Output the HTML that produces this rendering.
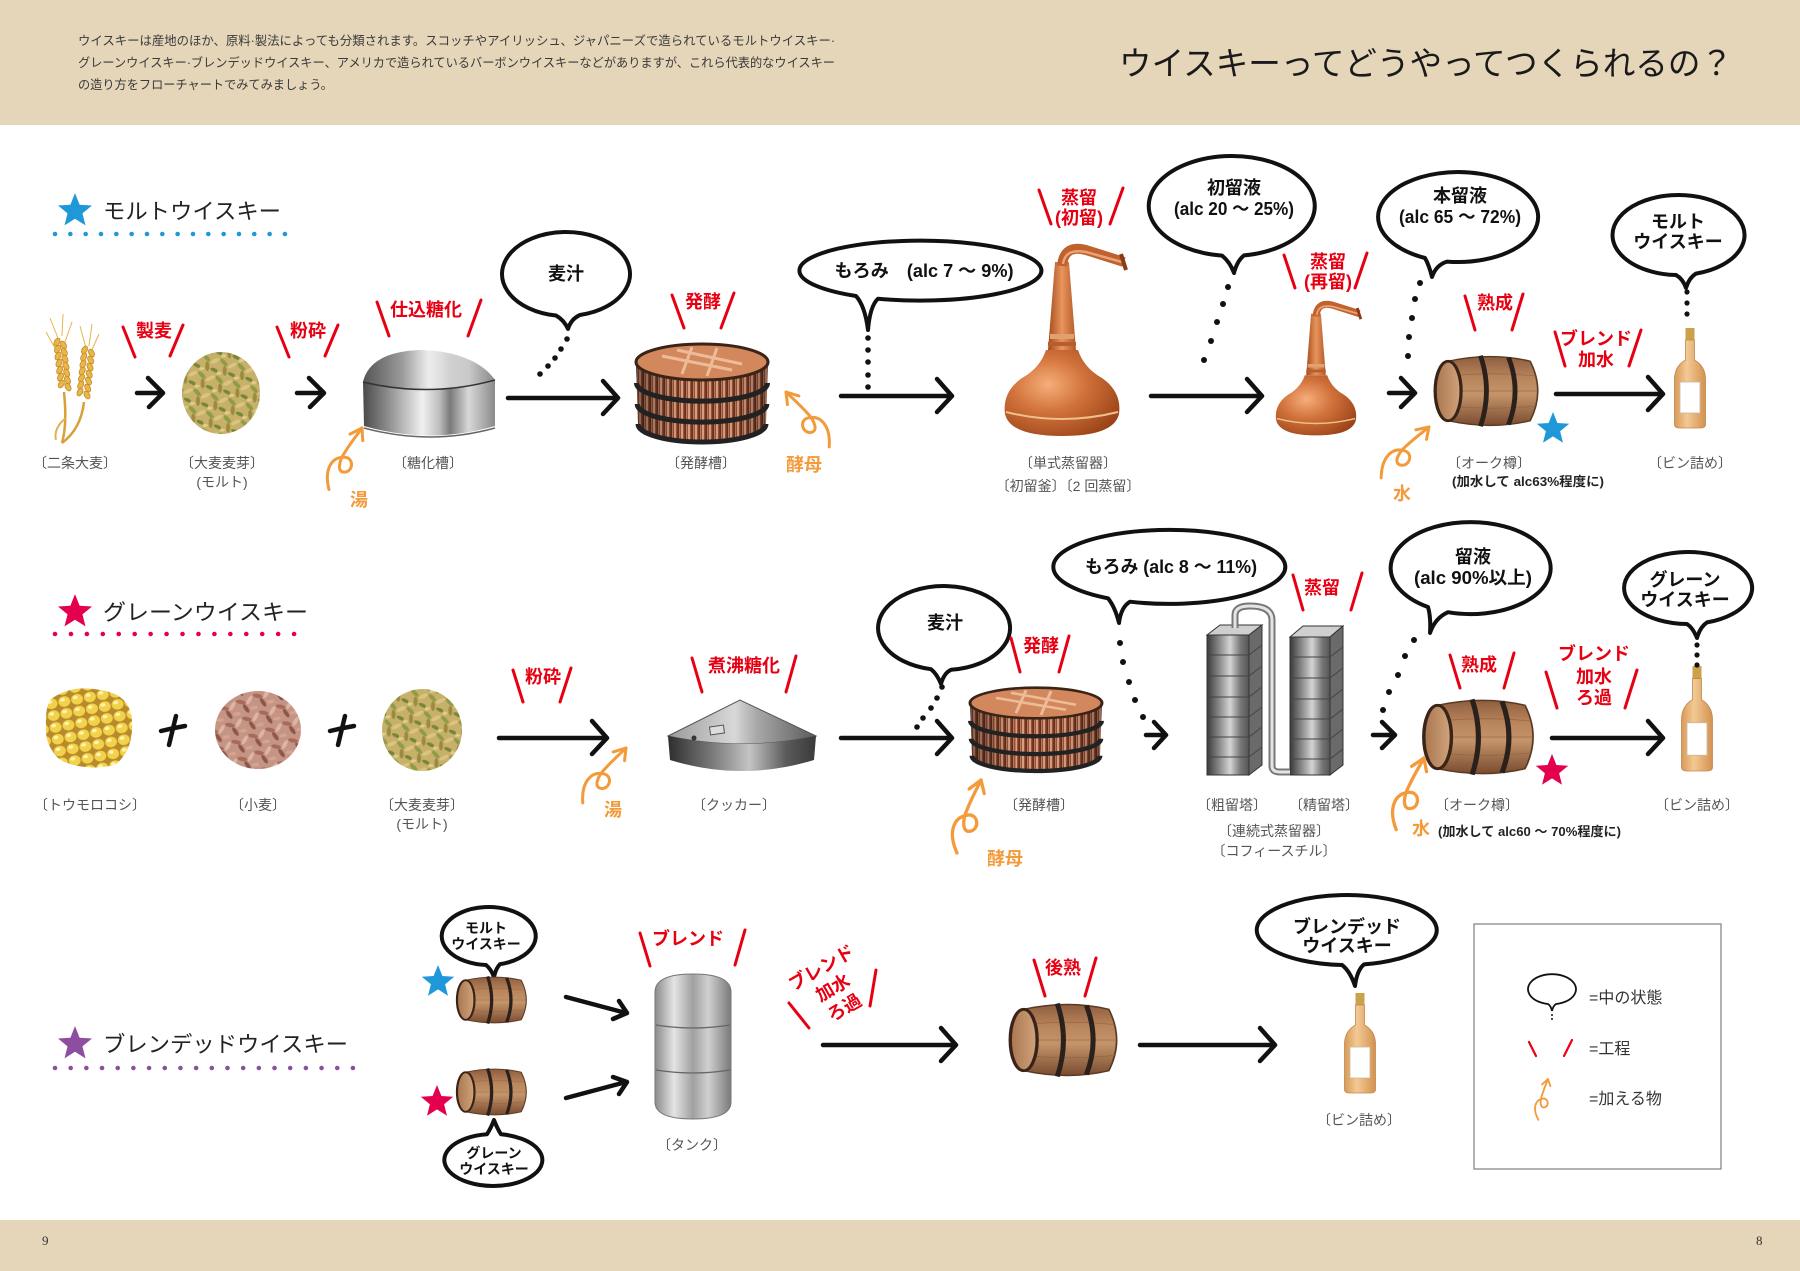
<!DOCTYPE html>
<html lang="ja"><head><meta charset="utf-8"><title>ウイスキーってどうやってつくられるの？</title>
<style>
html,body{margin:0;padding:0;background:#fff;width:1800px;height:1271px;overflow:hidden;}
svg{display:block;}
text{font-family:"Liberation Sans","Noto Sans CJK JP",sans-serif;}
.lb{font-size:14px;fill:#555;text-anchor:middle;}
.rd{font-size:18px;fill:#E60012;font-weight:700;text-anchor:middle;}
.bt{font-size:18px;fill:#111;font-weight:700;text-anchor:middle;}
.bs{font-size:14px;fill:#111;font-weight:700;text-anchor:middle;}
.nar{font-family:"Liberation Sans Narrow","Liberation Sans","Noto Sans CJK JP",sans-serif;}
.or{font-size:18px;fill:#F39A3A;font-weight:700;text-anchor:middle;}
.ttl{font-size:22px;fill:#222;}
.bub{fill:#fff;stroke:#111;stroke-width:4;stroke-linejoin:round;}
.sl{stroke:#E60012;stroke-width:3;stroke-linecap:round;fill:none;}
.ar{stroke:#111;stroke-width:4.5;stroke-linecap:round;stroke-linejoin:round;fill:none;}
.dt{fill:#111;}
.lg{font-size:16px;fill:#333;}
</style></head><body>
<svg width="1800" height="1271" viewBox="0 0 1800 1271" xmlns="http://www.w3.org/2000/svg">
<defs>
  <path id="star" d="M0,-17 L4.4,-6 L16.2,-5.2 L7.1,2.3 L10,13.7 L0,7.4 L-10,13.7 L-7.1,2.3 L-16.2,-5.2 L-4.4,-6 Z"/>
  <linearGradient id="gBarrel" x1="0" y1="0" x2="0" y2="1">
    <stop offset="0" stop-color="#8e5e3e"/><stop offset="0.3" stop-color="#b8845c"/>
    <stop offset="0.55" stop-color="#c4946a"/><stop offset="1" stop-color="#7a4c30"/>
  </linearGradient>
  <linearGradient id="gBarrelEnd" x1="0" y1="0" x2="1" y2="0">
    <stop offset="0" stop-color="#a87650"/><stop offset="1" stop-color="#d2a47c"/>
  </linearGradient>
  <linearGradient id="gShadeH" x1="0" y1="0" x2="1" y2="0">
    <stop offset="0" stop-color="#000" stop-opacity="0.4"/><stop offset="0.35" stop-color="#000" stop-opacity="0"/>
    <stop offset="0.75" stop-color="#000" stop-opacity="0.05"/><stop offset="1" stop-color="#000" stop-opacity="0.35"/>
  </linearGradient>
  <radialGradient id="gCopper" cx="0.38" cy="0.4" r="0.7">
    <stop offset="0" stop-color="#f6ae7a"/><stop offset="0.45" stop-color="#d2733c"/><stop offset="1" stop-color="#9c4418"/>
  </radialGradient>
  <linearGradient id="gCopperV" x1="0" y1="0" x2="1" y2="0">
    <stop offset="0" stop-color="#a4481c"/><stop offset="0.5" stop-color="#e8955c"/><stop offset="1" stop-color="#b4582a"/>
  </linearGradient>
  <linearGradient id="gBottle" x1="0" y1="0" x2="1" y2="0">
    <stop offset="0" stop-color="#d89a58"/><stop offset="0.4" stop-color="#f3c994"/><stop offset="1" stop-color="#d39250"/>
  </linearGradient>
  <linearGradient id="gMetal" x1="0" y1="0" x2="1" y2="0">
    <stop offset="0" stop-color="#4a4a4a"/><stop offset="0.18" stop-color="#8a8a8a"/>
    <stop offset="0.45" stop-color="#f0f0f0"/><stop offset="0.58" stop-color="#bdbdbd"/>
    <stop offset="0.66" stop-color="#7a7a7a"/><stop offset="0.8" stop-color="#d8d8d8"/><stop offset="1" stop-color="#8a8a8a"/>
  </linearGradient>
  <linearGradient id="gDome" x1="0" y1="0" x2="1" y2="0">
    <stop offset="0" stop-color="#555"/><stop offset="0.3" stop-color="#999"/>
    <stop offset="0.5" stop-color="#eee"/><stop offset="0.8" stop-color="#c8c8c8"/><stop offset="1" stop-color="#888"/>
  </linearGradient>
  <linearGradient id="gCone" x1="0" y1="0" x2="1" y2="0">
    <stop offset="0" stop-color="#9a9a9a"/><stop offset="0.45" stop-color="#d8d8d8"/>
    <stop offset="0.6" stop-color="#a8a8a8"/><stop offset="1" stop-color="#5a5a5a"/>
  </linearGradient>
  <linearGradient id="gCyl" x1="0" y1="0" x2="1" y2="0">
    <stop offset="0" stop-color="#2e2e2e"/><stop offset="0.3" stop-color="#7a7a7a"/>
    <stop offset="0.55" stop-color="#c4c4c4"/><stop offset="0.8" stop-color="#5a5a5a"/><stop offset="1" stop-color="#3a3a3a"/>
  </linearGradient>
  <linearGradient id="gTower" x1="0" y1="0" x2="1" y2="0">
    <stop offset="0" stop-color="#3a3a3a"/><stop offset="0.3" stop-color="#8c8c8c"/>
    <stop offset="0.55" stop-color="#d4d4d4"/><stop offset="0.8" stop-color="#777"/><stop offset="1" stop-color="#555"/>
  </linearGradient>
  <linearGradient id="gTank" x1="0" y1="0" x2="1" y2="0">
    <stop offset="0" stop-color="#8a8a8a"/><stop offset="0.25" stop-color="#e4e4e4"/>
    <stop offset="0.5" stop-color="#a0a0a0"/><stop offset="0.7" stop-color="#d0d0d0"/><stop offset="1" stop-color="#7a7a7a"/>
  </linearGradient>
  <pattern id="pStave" width="7" height="10" patternUnits="userSpaceOnUse">
    <rect width="7" height="10" fill="#9a5238"/>
    <rect x="0" width="2" height="10" fill="#d9a080"/>
    <rect x="3.5" width="1.2" height="10" fill="#4a2418"/>
    <rect x="5" width="1" height="10" fill="#c07858"/>
  </pattern>
  <pattern id="pMalt" width="18" height="18" patternUnits="userSpaceOnUse" patternTransform="rotate(15)">
    <rect width="18" height="18" fill="#c7b06a"/>
    <ellipse cx="4" cy="4" rx="5" ry="2" fill="#8f9b45" transform="rotate(30 4 4)"/>
    <ellipse cx="13" cy="5" rx="5" ry="2" fill="#dcc47e" transform="rotate(-40 13 5)"/>
    <ellipse cx="7" cy="12" rx="5" ry="2" fill="#9c8a3e" transform="rotate(75 7 12)"/>
    <ellipse cx="15" cy="14" rx="4.5" ry="1.8" fill="#76863a" transform="rotate(10 15 14)"/>
    <ellipse cx="2" cy="16" rx="3" ry="1.5" fill="#e2cc8a" transform="rotate(-20 2 16)"/>
  </pattern>
  <pattern id="pWheat" width="18" height="18" patternUnits="userSpaceOnUse" patternTransform="rotate(-20)">
    <rect width="18" height="18" fill="#c49484"/>
    <ellipse cx="4" cy="4" rx="5" ry="2" fill="#a8685a" transform="rotate(30 4 4)"/>
    <ellipse cx="13" cy="5" rx="5" ry="2" fill="#e0b4a4" transform="rotate(-40 13 5)"/>
    <ellipse cx="7" cy="12" rx="5" ry="2" fill="#8e5648" transform="rotate(75 7 12)"/>
    <ellipse cx="15" cy="14" rx="4.5" ry="1.8" fill="#d8a290" transform="rotate(10 15 14)"/>
  </pattern>
  <pattern id="pCorn" width="13" height="12" patternUnits="userSpaceOnUse" patternTransform="rotate(-10)">
    <rect width="13" height="12" fill="#b88a2c"/>
    <ellipse cx="6.5" cy="6" rx="6" ry="5.3" fill="#f2d24a"/>
    <ellipse cx="5" cy="4" rx="2.5" ry="1.8" fill="#fff4b0"/>
  </pattern>

  <g id="barrel">
    <path d="M-36,-32 Q4,-42 40,-32 Q54,0 40,32 Q4,42 -36,32 Z" fill="url(#gBarrel)" stroke="#5a3a24" stroke-width="1.5"/>
    <path d="M-34,-16 Q4,-21 46,-16 M-34,16 Q4,21 46,16 M-34,0 L47,0" stroke="#8a5a3a" stroke-width="0.8" opacity="0.6" fill="none"/>
    <ellipse cx="-36" cy="0" rx="12" ry="32" fill="url(#gBarrelEnd)" stroke="#3a2418" stroke-width="3"/>
    <path d="M-6,-38 Q5,0 -6,38" fill="none" stroke="#2a211c" stroke-width="4.5"/>
    <path d="M20,-36 Q32,0 20,36" fill="none" stroke="#2a211c" stroke-width="4.5"/>
  </g>
  <g id="ferm">
    <path d="M-66,0 L-64,62 A64,18 0 0 0 64,62 L66,0 Z" fill="url(#pStave)"/>
    <path d="M-66,0 L-64,62 A64,18 0 0 0 64,62 L66,0 Z" fill="url(#gShadeH)"/>
    <path d="M-65.5,21 A65,18 0 0 0 65.5,21" fill="none" stroke="#222" stroke-width="5"/>
    <path d="M-64.8,42 A64.5,18 0 0 0 64.8,42" fill="none" stroke="#222" stroke-width="5"/>
    <path d="M-64,62 A64,18 0 0 0 64,62" fill="none" stroke="#222" stroke-width="5"/>
    <ellipse cx="0" cy="0" rx="66" ry="18" fill="#d3875c" stroke="#3a2418" stroke-width="3"/>
    <path d="M-40,-6 L30,8 M-25,-12 L40,2 M-10,-15 L-20,12 M15,-14 L5,14" stroke="#f2c8a8" stroke-width="3" fill="none" opacity="0.8"/>
  </g>
  <g id="pot">
    <path d="M-14,-84 L-7,-172 L7,-172 L14,-84 Z" fill="url(#gCopperV)"/>
    <path d="M0,-168 Q2,-190 24,-184 L62,-172" stroke="#c0622e" stroke-width="10" fill="none"/>
    <path d="M1,-170 Q3,-186 24,-182 L60,-172" stroke="#eaa276" stroke-width="2.5" fill="none"/>
    <path d="M59,-180 L64,-164" stroke="#8a3a18" stroke-width="4"/>
    <path d="M-16,-84 Q-22,-66 -40,-56 Q-60,-42 -57,-20 Q-52,2 0,2 Q52,2 57,-20 Q60,-42 40,-56 Q22,-66 16,-84 Z" fill="url(#gCopper)"/>
    <path d="M-56,-22 Q0,-8 56,-22" stroke="#f0c08c" stroke-width="2" fill="none"/>
    <rect x="-12" y="-100" width="24" height="5" fill="#e0a070"/>
    <rect x="-14" y="-92" width="28" height="4" fill="#b65e2c"/>
  </g>
  <g id="bottle">
    <rect x="-4.5" y="-100" width="9" height="13" fill="#c9a24a"/>
    <path d="M-4.5,-88 L-4.5,-68 Q-15,-62 -15.5,-50 L-15.5,-3 Q-15,0 -10,0 L10,0 Q15,0 15.5,-3 L15.5,-50 Q15,-62 4.5,-68 L4.5,-88 Z" fill="url(#gBottle)" stroke="#c08850" stroke-width="0.8"/>
    <rect x="-10" y="-46" width="20" height="31" fill="#fff" stroke="#c8b8a0" stroke-width="0.8"/>
  </g>
  <g id="oarr" fill="none" stroke="#F39A3A" stroke-width="3" stroke-linecap="round" stroke-linejoin="round">
    <path d="M-16,68 C-26,50 -22,36 -10,33 C0,30 3,44 -5,47 C-13,50 -14,38 -10,27 C-7,17 -3,8 0,0"/>
    <path d="M-10,9 L0,0 L4,12"/>
  </g>
</defs>

<!-- header / footer -->
<rect x="0" y="0" width="1800" height="125" fill="#E5D6BA"/>
<rect x="0" y="1220" width="1800" height="51" fill="#E5D6BA"/>
<text x="78" y="45" font-size="12.5" fill="#3a3a3a" textLength="757" lengthAdjust="spacingAndGlyphs">ウイスキーは産地のほか、原料·製法によっても分類されます。スコッチやアイリッシュ、ジャパニーズで造られているモルトウイスキー·</text>
<text x="78" y="67" font-size="12.5" fill="#3a3a3a" textLength="757" lengthAdjust="spacingAndGlyphs">グレーンウイスキー·ブレンデッドウイスキー、アメリカで造られているバーボンウイスキーなどがありますが、これら代表的なウイスキー</text>
<text x="78" y="89" font-size="12.5" fill="#3a3a3a" textLength="255" lengthAdjust="spacingAndGlyphs">の造り方をフローチャートでみてみましょう。</text>
<text x="1119" y="75" font-size="33" fill="#1a1a1a" textLength="614" lengthAdjust="spacingAndGlyphs">ウイスキーってどうやってつくられるの？</text>
<text x="42" y="1245" font-size="13" fill="#333" style="font-family:'Liberation Serif',serif">9</text>
<text x="1756" y="1245" font-size="13" fill="#333" style="font-family:'Liberation Serif',serif">8</text>

<!-- section titles -->
<use href="#star" transform="translate(75,211) scale(1.05)" fill="#1E98D8"/>
<text class="ttl" x="103" y="219" textLength="178" lengthAdjust="spacingAndGlyphs">モルトウイスキー</text>
<line x1="55" y1="234" x2="285" y2="234" stroke="#1E98D8" stroke-width="4.6" stroke-linecap="round" stroke-dasharray="0 15.33"/>

<use href="#star" transform="translate(75,612) scale(1.05)" fill="#E4004F"/>
<text class="ttl" x="103" y="620" textLength="205" lengthAdjust="spacingAndGlyphs">グレーンウイスキー</text>
<line x1="55" y1="634" x2="310" y2="634" stroke="#E4004F" stroke-width="4.6" stroke-linecap="round" stroke-dasharray="0 15.94"/>

<use href="#star" transform="translate(75,1044) scale(1.05)" fill="#8D4E9F"/>
<text class="ttl" x="103" y="1052" textLength="245" lengthAdjust="spacingAndGlyphs">ブレンデッドウイスキー</text>
<line x1="55" y1="1068" x2="353" y2="1068" stroke="#8D4E9F" stroke-width="4.6" stroke-linecap="round" stroke-dasharray="0 15.68"/>

<!-- ===== MALT ROW ===== -->
<!-- wheat -->
<g>
  <path d="M64,392 C66,412 66,428 62,443" stroke="#D8A038" stroke-width="2.5" fill="none"/>
  <path d="M84,402 C82,420 74,434 62,443" stroke="#D8A038" stroke-width="2.5" fill="none"/>
  <path d="M66,418 C58,424 54,432 56,440" stroke="#E0B050" stroke-width="2" fill="none"/>
  <path d="M58,338 L50,318 M62,336 L63,314 M65,342 L72,322 M56,350 L46,332 M86,348 L80,326 M89,346 L92,324 M91,352 L99,334" stroke="#E4B450" stroke-width="1" fill="none"/>
  <g fill="#E9B648" stroke="#C48A28" stroke-width="0.8">
    <ellipse cx="57" cy="342" rx="4.2" ry="2.6" transform="rotate(-60 57 342)"/><ellipse cx="63.5" cy="345" rx="4.2" ry="2.6" transform="rotate(60 63.5 345)"/>
    <ellipse cx="57.5" cy="349" rx="4.2" ry="2.6" transform="rotate(-60 57.5 349)"/><ellipse cx="64.3" cy="352" rx="4.2" ry="2.6" transform="rotate(60 64.3 352)"/>
    <ellipse cx="58" cy="356" rx="4.2" ry="2.6" transform="rotate(-60 58 356)"/><ellipse cx="65" cy="359" rx="4.2" ry="2.6" transform="rotate(60 65 359)"/>
    <ellipse cx="59" cy="363" rx="4.2" ry="2.6" transform="rotate(-60 59 363)"/><ellipse cx="66" cy="366" rx="4.2" ry="2.6" transform="rotate(60 66 366)"/>
    <ellipse cx="59.7" cy="370" rx="4.2" ry="2.6" transform="rotate(-60 59.7 370)"/><ellipse cx="66.7" cy="373" rx="4.2" ry="2.6" transform="rotate(60 66.7 373)"/>
    <ellipse cx="60.5" cy="377" rx="4.2" ry="2.6" transform="rotate(-60 60.5 377)"/><ellipse cx="67.5" cy="380" rx="4.2" ry="2.6" transform="rotate(60 67.5 380)"/>
    <ellipse cx="61.3" cy="384" rx="4.2" ry="2.6" transform="rotate(-60 61.3 384)"/><ellipse cx="68" cy="387" rx="4.2" ry="2.6" transform="rotate(60 68 387)"/>
    <ellipse cx="84.5" cy="350" rx="4.2" ry="2.6" transform="rotate(-60 84.5 350)"/><ellipse cx="91.5" cy="353" rx="4.2" ry="2.6" transform="rotate(60 91.5 353)"/>
    <ellipse cx="83.7" cy="357" rx="4.2" ry="2.6" transform="rotate(-60 83.7 357)"/><ellipse cx="90.7" cy="360" rx="4.2" ry="2.6" transform="rotate(60 90.7 360)"/>
    <ellipse cx="83" cy="364" rx="4.2" ry="2.6" transform="rotate(-60 83 364)"/><ellipse cx="90" cy="367" rx="4.2" ry="2.6" transform="rotate(60 90 367)"/>
    <ellipse cx="82.2" cy="371" rx="4.2" ry="2.6" transform="rotate(-60 82.2 371)"/><ellipse cx="89.2" cy="374" rx="4.2" ry="2.6" transform="rotate(60 89.2 374)"/>
    <ellipse cx="81.5" cy="378" rx="4.2" ry="2.6" transform="rotate(-60 81.5 378)"/><ellipse cx="88.5" cy="381" rx="4.2" ry="2.6" transform="rotate(60 88.5 381)"/>
    <ellipse cx="80.7" cy="385" rx="4.2" ry="2.6" transform="rotate(-60 80.7 385)"/><ellipse cx="87.7" cy="388" rx="4.2" ry="2.6" transform="rotate(60 87.7 388)"/>
    <ellipse cx="80" cy="392" rx="4.2" ry="2.6" transform="rotate(-60 80 392)"/><ellipse cx="87" cy="395" rx="4.2" ry="2.6" transform="rotate(60 87 395)"/>
  </g>
</g>
<text class="lb" x="75" y="468">〔二条大麦〕</text>

<text class="rd" x="154" y="337">製麦</text>
<path class="sl" d="M123,327 L135,357 M183,325 L170,356"/>
<path class="ar" d="M137,393 L162,393 M148,378 L163,393 L149,407"/>

<ellipse cx="221" cy="393" rx="39" ry="41" fill="url(#pMalt)"/>
<text class="lb" x="222" y="468">〔大麦麦芽〕</text>
<text class="lb" x="222" y="487">(モルト)</text>

<text class="rd" x="308" y="337">粉砕</text>
<path class="sl" d="M277,327 L289,357 M338,325 L325,356"/>
<path class="ar" d="M297,393 L323,393 M309,378 L324,393 L310,407"/>

<!-- mash tun -->
<path d="M363,382 Q370,352 420,350 Q475,352 495,380 L495,426 Q430,445 364,426 Z" fill="url(#gMetal)"/>
<path d="M363,382 Q370,352 420,350 Q475,352 495,380 Q430,398 363,382 Z" fill="url(#gDome)" opacity="0.9"/>
<path d="M363,382 Q430,398 495,380" stroke="#333" stroke-width="1.5" fill="none"/>
<path d="M364,428 Q430,446 495,428" stroke="#666" stroke-width="1.5" fill="none"/>
<text class="lb" x="428" y="468">〔糖化槽〕</text>
<text class="rd" x="426" y="316">仕込糖化</text>
<path class="sl" d="M377,302 L389,336 M481,300 L468,336"/>
<use href="#oarr" transform="translate(362,428) rotate(15)"/>
<text class="or" x="359" y="506">湯</text>

<!-- bubble 麦汁 -->
<path class="bub" d="M556,315.5 A64,42 0 1 1 580,315 Q571,319 568,329 Q564,320 556,315.5 Z"/>
<text class="bt" x="566" y="280">麦汁</text>
<circle class="dt" cx="567" cy="339" r="2.8"/><circle class="dt" cx="561" cy="349" r="2.8"/><circle class="dt" cx="555" cy="358" r="2.8"/><circle class="dt" cx="548" cy="366" r="2.8"/><circle class="dt" cx="540" cy="374" r="2.8"/>
<path class="ar" d="M508,398 L617,398 M603,381 L618,398 L603,414"/>

<!-- fermenter -->
<use href="#ferm" transform="translate(702,362)"/>
<text class="lb" x="701" y="468">〔発酵槽〕</text>
<text class="rd" x="703" y="308">発酵</text>
<path class="sl" d="M672,295 L684,328 M734,293 L721,328"/>
<use href="#oarr" transform="translate(786,392) rotate(-25) scale(-1,1)"/>
<text class="or" x="804" y="471">酵母</text>

<!-- bubble もろみ -->
<path class="bub" d="M856,296 A121,30 0 1 1 878,298.7 Q870,306 868,330 Q865,306 856,296 Z"/>
<text class="bt nar" x="924" y="277" textLength="179" lengthAdjust="spacingAndGlyphs">もろみ　(alc 7 ～ 9%)</text>
<circle class="dt" cx="868" cy="338" r="2.8"/><circle class="dt" cx="868" cy="350" r="2.8"/><circle class="dt" cx="868" cy="362" r="2.8"/><circle class="dt" cx="868" cy="375" r="2.8"/><circle class="dt" cx="868" cy="387" r="2.8"/>
<path class="ar" d="M841,396 L951,396 M937,379 L952,396 L937,412"/>

<!-- pot still 1 -->
<use href="#pot" transform="translate(1062,434)"/>
<text class="lb" x="1068" y="468">〔単式蒸留器〕</text>
<text class="lb" x="1068" y="491">〔初留釜〕〔2 回蒸留〕</text>
<text class="rd" x="1079" y="204">蒸留</text>
<text class="rd" x="1079" y="224">(初留)</text>
<path class="sl" d="M1039,190 L1051,224 M1123,188 L1110,224"/>

<!-- bubble 初留液 -->
<path class="bub" d="M1222,255.6 A83,50 0 1 1 1244,255.4 Q1237,261 1234,273 Q1230,262 1222,255.6 Z"/>
<text class="bt" x="1234" y="194">初留液</text>
<text class="bt nar" x="1234" y="215" textLength="120" lengthAdjust="spacingAndGlyphs">(alc 20 ～ 25%)</text>
<circle class="dt" cx="1228" cy="287" r="3"/><circle class="dt" cx="1223" cy="304" r="3"/><circle class="dt" cx="1217" cy="322" r="3"/><circle class="dt" cx="1211" cy="341" r="3"/><circle class="dt" cx="1204" cy="360" r="3"/>
<path class="ar" d="M1151,396 L1261,396 M1247,379 L1262,396 L1247,412"/>

<!-- pot still 2 -->
<use href="#pot" transform="translate(1316,434) scale(0.7)"/>
<text class="rd" x="1328" y="268">蒸留</text>
<text class="rd" x="1328" y="288">(再留)</text>
<path class="sl" d="M1284,255 L1295,288 M1367,253 L1355,288"/>

<!-- bubble 本留液 -->
<path class="bub" d="M1425,258 A80,45 0 1 1 1447,261.6 Q1436,265 1432,277 Q1429,265 1425,258 Z"/>
<text class="bt" x="1460" y="202">本留液</text>
<text class="bt nar" x="1460" y="223" textLength="122" lengthAdjust="spacingAndGlyphs">(alc 65 ～ 72%)</text>
<circle class="dt" cx="1420" cy="283" r="3"/><circle class="dt" cx="1415" cy="299" r="3"/><circle class="dt" cx="1412" cy="318" r="3"/><circle class="dt" cx="1409" cy="337" r="3"/><circle class="dt" cx="1408" cy="356" r="3"/>
<path class="ar" d="M1389,393 L1414,393 M1401,378 L1415,393 L1401,407"/>

<!-- barrel malt -->
<use href="#barrel" transform="translate(1487,391) scale(1.08,0.93)"/>
<text class="rd" x="1495" y="309">熟成</text>
<path class="sl" d="M1465,296 L1475,330 M1523,294 L1512,330"/>
<use href="#star" transform="translate(1553,429)" fill="#1E98D8"/>
<text class="lb" x="1489" y="468">〔オーク樽〕</text>
<text x="1452" y="486" font-size="13" font-weight="700" fill="#222" textLength="152" lengthAdjust="spacingAndGlyphs">(加水して alc63%程度に)</text>
<use href="#oarr" transform="translate(1429,427) rotate(30)"/>
<text class="or" x="1402" y="500">水</text>

<text class="rd" x="1596" y="345">ブレンド</text>
<text class="rd" x="1596" y="366">加水</text>
<path class="sl" d="M1555,332 L1565,366 M1641,330 L1629,366"/>
<path class="ar" d="M1556,394 L1662,394 M1648,377 L1663,394 L1648,410"/>

<use href="#bottle" transform="translate(1690,428)"/>
<text class="lb" x="1690" y="468">〔ビン詰め〕</text>
<path class="bub" d="M1676,275 A66,40 0 1 1 1696,273.6 Q1689,278 1686,288 Q1683,279 1676,275 Z"/>
<text class="bt" x="1678" y="228">モルト</text>
<text class="bt" x="1678" y="248">ウイスキー</text>
<circle class="dt" cx="1687" cy="292" r="2.6"/><circle class="dt" cx="1687" cy="303" r="2.6"/><circle class="dt" cx="1687" cy="314" r="2.6"/>

<!-- ===== GRAIN ROW ===== -->
<path d="M50,700 Q70,684 100,690 Q130,694 132,720 Q134,750 115,765 Q85,772 60,760 Q44,745 46,725 Q45,710 50,700 Z" fill="url(#pCorn)"/>
<text class="lb" x="90" y="810">〔トウモロコシ〕</text>
<path class="ar" d="M161,731 Q173,728 185,726 M176,716 L169,745"/>
<ellipse cx="258" cy="730" rx="43" ry="39" fill="url(#pWheat)"/>
<text class="lb" x="258" y="810">〔小麦〕</text>
<path class="ar" d="M330,731 Q342,728 354,726 M345,716 L338,745"/>
<ellipse cx="422" cy="730" rx="40" ry="41" fill="url(#pMalt)"/>
<text class="lb" x="422" y="810">〔大麦麦芽〕</text>
<text class="lb" x="422" y="829">(モルト)</text>

<text class="rd" x="543" y="683">粉砕</text>
<path class="sl" d="M513,670 L523,702 M571,668 L560,702"/>
<path class="ar" d="M499,738 L606,738 M592,721 L607,738 L592,754"/>
<use href="#oarr" transform="translate(626,748) rotate(25)"/>
<text class="or" x="613" y="816">湯</text>

<!-- cooker -->
<path d="M668,736 L740,700 L816,736 Q742,752 668,736 Z" fill="url(#gCone)" stroke="#555" stroke-width="1"/>
<path d="M668,736 Q742,752 816,736 L814,760 Q742,782 670,760 Z" fill="url(#gCyl)"/>
<rect x="710" y="726" width="14" height="8" fill="#ddd" stroke="#555" stroke-width="1" transform="rotate(-8 717 730)"/>
<circle cx="694" cy="738" r="2.5" fill="#333"/>
<text class="lb" x="734" y="810">〔クッカー〕</text>
<text class="rd" x="744" y="672">煮沸糖化</text>
<path class="sl" d="M692,658 L702,692 M796,656 L786,692"/>
<path class="ar" d="M841,738 L951,738 M937,721 L952,738 L937,754"/>

<!-- bubble 麦汁 (grain) -->
<path class="bub" d="M931,669.2 A66,42 0 1 1 951,669.8 Q944,673 941,684 Q937,674 931,669.2 Z"/>
<text class="bt" x="945" y="629">麦汁</text>
<circle class="dt" cx="942" cy="687" r="2.8"/><circle class="dt" cx="937" cy="698" r="2.8"/><circle class="dt" cx="931" cy="708" r="2.8"/><circle class="dt" cx="923" cy="718" r="2.8"/><circle class="dt" cx="917" cy="727" r="2.8"/>

<use href="#ferm" transform="translate(1036,703) scale(1,0.85)"/>
<text class="rd" x="1041" y="652">発酵</text>
<path class="sl" d="M1011,638 L1020,672 M1069,636 L1059,672"/>
<text class="lb" x="1039" y="810">〔発酵槽〕</text>
<use href="#oarr" transform="translate(981,780) rotate(5) scale(1.1)"/>
<text class="or" x="1005" y="865">酵母</text>

<!-- bubble もろみ grain -->
<path class="bub" d="M1108,598.3 A116,37 0 1 1 1130,601.7 Q1121,607 1119,623 Q1115,607 1108,598.3 Z"/>
<text class="bt nar" x="1171" y="573" textLength="172" lengthAdjust="spacingAndGlyphs">もろみ (alc 8 ～ 11%)</text>
<circle class="dt" cx="1120" cy="643" r="3"/><circle class="dt" cx="1123" cy="662" r="3"/><circle class="dt" cx="1129" cy="682" r="3"/><circle class="dt" cx="1135" cy="700" r="3"/><circle class="dt" cx="1143" cy="717" r="3"/>
<path class="ar" d="M1146,735 L1165,735 M1154,722 L1166,735 L1154,748"/>

<!-- column still -->
<g stroke="#333" stroke-width="1">
  <polygon points="1207,635 1220,625 1262,625 1249,635" fill="#cfcfcf"/>
  <rect x="1207" y="635" width="42" height="140" fill="url(#gTower)"/>
  <polygon points="1249,635 1262,625 1262,765 1249,775" fill="#6a6a6a"/>
  <polygon points="1290,637 1303,626 1343,626 1330,637" fill="#cfcfcf"/>
  <rect x="1290" y="637" width="40" height="138" fill="url(#gTower)"/>
  <polygon points="1330,637 1343,626 1343,765 1330,775" fill="#6a6a6a"/>
  <path d="M1207,655 L1249,655 L1262,645 M1207,676 L1249,676 L1262,666 M1207,697 L1249,697 L1262,687 M1207,717 L1249,717 L1262,707 M1207,737 L1249,737 L1262,727 M1207,757 L1249,757 L1262,747" fill="none" stroke="#444"/>
  <path d="M1290,657 L1330,657 L1343,647 M1290,678 L1330,678 L1343,668 M1290,699 L1330,699 L1343,689 M1290,719 L1330,719 L1343,709 M1290,739 L1330,739 L1343,729 M1290,759 L1330,759 L1343,749" fill="none" stroke="#444"/>
</g>
<path d="M1235,628 L1235,615 Q1235,606 1250,606 Q1272,606 1272,620 L1272,766 Q1272,772 1280,772 L1290,772" fill="none" stroke="#777" stroke-width="7"/>
<path d="M1235,628 L1235,615 Q1235,606 1250,606 Q1272,606 1272,620 L1272,766 Q1272,772 1280,772 L1290,772" fill="none" stroke="#e4e4e4" stroke-width="3"/>
<text class="lb" x="1232" y="810">〔粗留塔〕</text>
<text class="lb" x="1324" y="810">〔精留塔〕</text>
<text class="lb" x="1274" y="836">〔連続式蒸留器〕</text>
<text class="lb" x="1274" y="856">〔コフィースチル〕</text>
<text class="rd" x="1322" y="594">蒸留</text>
<path class="sl" d="M1293,575 L1303,610 M1362,573 L1351,610"/>

<!-- bubble 留液 -->
<path class="bub" d="M1428,607 A80,46 0 1 1 1448,612.2 Q1435,618 1430,633 Q1431,617 1428,607 Z"/>
<text class="bt" x="1473" y="563">留液</text>
<text class="bt nar" x="1473" y="584" textLength="118" lengthAdjust="spacingAndGlyphs">(alc 90%以上)</text>
<circle class="dt" cx="1414" cy="640" r="3"/><circle class="dt" cx="1405" cy="656" r="3"/><circle class="dt" cx="1398" cy="675" r="3"/><circle class="dt" cx="1389" cy="692" r="3"/><circle class="dt" cx="1383" cy="710" r="3"/>
<path class="ar" d="M1373,735 L1394,735 M1382,722 L1395,735 L1382,748"/>

<use href="#barrel" transform="translate(1479,737) scale(1.15,0.99)"/>
<text class="rd" x="1479" y="671">熟成</text>
<path class="sl" d="M1450,655 L1460,688 M1514,653 L1504,688"/>
<use href="#star" transform="translate(1552,771)" fill="#E4004F"/>
<text class="lb" x="1477" y="810">〔オーク樽〕</text>
<use href="#oarr" transform="translate(1424,758) rotate(8) scale(1.1)"/>
<text class="or" x="1421" y="835">水</text>
<text x="1438" y="836" font-size="13" font-weight="700" fill="#222" textLength="183" lengthAdjust="spacingAndGlyphs">(加水して alc60 ～ 70%程度に)</text>

<text class="rd" x="1594" y="660">ブレンド</text>
<text class="rd" x="1594" y="683">加水</text>
<text class="rd" x="1594" y="704">ろ過</text>
<path class="sl" d="M1546,672 L1557,708 M1637,670 L1625,708"/>
<path class="ar" d="M1552,738 L1662,738 M1648,721 L1663,738 L1648,754"/>

<use href="#bottle" transform="translate(1697,771) scale(1,1.05)"/>
<text class="lb" x="1697" y="810">〔ビン詰め〕</text>
<path class="bub" d="M1687,624 A64,36 0 1 1 1707,622.4 Q1700,627 1697,638 Q1693,628 1687,624 Z"/>
<text class="bt" x="1685" y="586">グレーン</text>
<text class="bt" x="1685" y="606">ウイスキー</text>
<circle class="dt" cx="1697" cy="645" r="2.6"/><circle class="dt" cx="1697" cy="655" r="2.6"/><circle class="dt" cx="1697" cy="665" r="2.6"/>

<!-- ===== BLENDED ROW ===== -->
<path class="bub" d="M486,965 A47,29 0 1 1 500,964.2 Q496,968 494,977 Q491,969 486,965 Z" stroke-width="3.5"/>
<text class="bs" x="486" y="933">モルト</text>
<text class="bs" x="486" y="949">ウイスキー</text>
<use href="#star" transform="translate(438,982)" fill="#1E98D8"/>
<use href="#barrel" transform="translate(492,1000) scale(0.73,0.62)"/>
<use href="#barrel" transform="translate(492,1092) scale(0.73,0.62)"/>
<use href="#star" transform="translate(437,1102)" fill="#E4004F"/>
<path class="bub" d="M501,1134.3 A49,26 0 1 1 487,1134.2 Q491,1128 494,1120 Q497,1128 501,1134.3 Z" stroke-width="3.5"/>
<text class="bs" x="494" y="1158">グレーン</text>
<text class="bs" x="494" y="1174">ウイスキー</text>

<path class="ar" d="M566,997 L626,1013 M619,1001 L627,1013 L613,1019"/>
<path class="ar" d="M566,1098 L626,1082 M613,1077 L627,1082 L619,1094"/>

<!-- tank -->
<path d="M655,992 Q655,974 693,974 Q731,974 731,992 L731,1102 Q731,1119 693,1119 Q655,1119 655,1102 Z" fill="url(#gTank)" stroke="#777" stroke-width="1"/>
<path d="M656,1025 Q693,1031 730,1025 M656,1070 Q693,1076 730,1070" stroke="#666" stroke-width="1.2" fill="none"/>
<text class="lb" x="692" y="1150">〔タンク〕</text>
<text class="rd" x="688" y="945">ブレンド</text>
<path class="sl" d="M640,933 L650,966 M745,930 L735,965"/>

<g transform="translate(833,988) rotate(-30)">
  <text class="rd" x="0" y="-17">ブレンド</text>
  <text class="rd" x="0" y="6">加水</text>
  <text class="rd" x="0" y="29">ろ過</text>
</g>
<path class="sl" d="M789,1003 L809,1028 M876,970 L870,1006"/>
<path class="ar" d="M823,1045 L955,1045 M941,1028 L956,1045 L941,1061"/>

<use href="#barrel" transform="translate(1064,1040) scale(1.12,0.96)"/>
<text class="rd" x="1063" y="974">後熟</text>
<path class="sl" d="M1034,960 L1045,996 M1096,958 L1085,996"/>
<path class="ar" d="M1140,1045 L1274,1045 M1260,1028 L1275,1045 L1260,1061"/>

<path class="bub" d="M1342,965 A90,35 0 1 1 1364,964.4 Q1357,970 1355,986 Q1350,971 1342,965 Z"/>
<text class="bt" x="1347" y="933">ブレンデッド</text>
<text class="bt" x="1347" y="952">ウイスキー</text>
<use href="#bottle" transform="translate(1360,1093)"/>
<text class="lb" x="1359" y="1125">〔ビン詰め〕</text>

<!-- legend -->
<rect x="1474" y="924" width="247" height="245" fill="none" stroke="#888" stroke-width="1.3"/>
<path d="M1548,1004 A24,15 0 1 1 1556,1004 Q1553,1006 1552,1011 Q1551,1006 1548,1004 Z" fill="#fff" stroke="#111" stroke-width="1.8"/>
<circle cx="1552" cy="1015" r="1" fill="#111"/><circle cx="1552" cy="1019" r="1" fill="#111"/>
<text class="lg" x="1589" y="1003">=中の状態</text>
<path d="M1529,1042 L1536,1056 M1572,1040 L1564,1056" stroke="#E60012" stroke-width="2.2" stroke-linecap="round"/>
<text class="lg" x="1589" y="1054">=工程</text>
<use href="#oarr" transform="translate(1548,1079) scale(0.6)"/>
<text class="lg" x="1589" y="1104">=加える物</text>
</svg>
</body></html>
